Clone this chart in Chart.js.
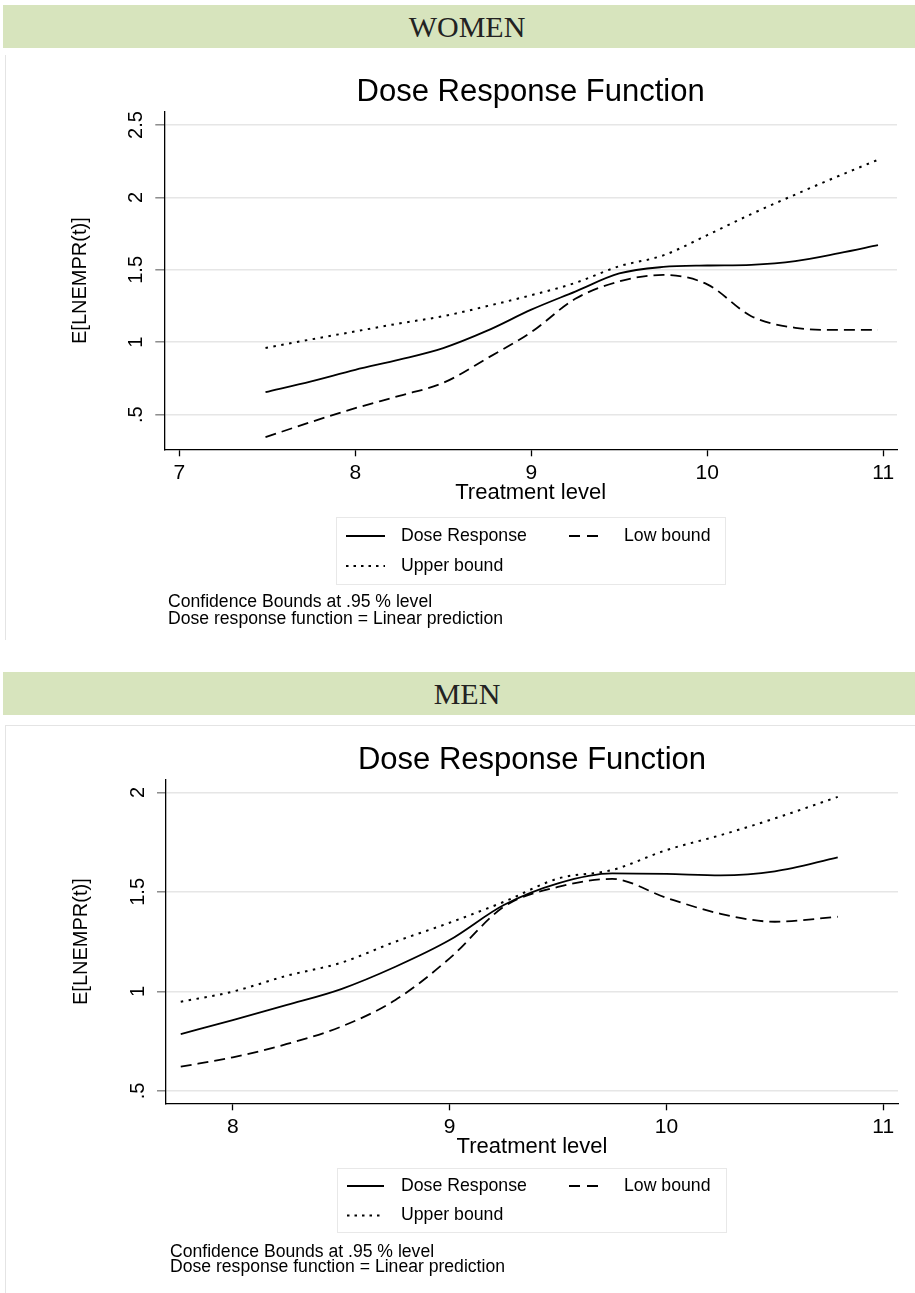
<!DOCTYPE html>
<html>
<head>
<meta charset="utf-8">
<title>Dose Response Function</title>
<script src="https://cdn.jsdelivr.net/npm/chart.js@4.4.0/dist/chart.umd.min.js"></script>
<style>
  body { margin: 0; background: #fff; width: 915px; height: 1293px; position: relative; overflow: hidden; }
  .band { position: absolute; left: 3px; width: 912px; height: 43px; background: #d7e4bd;
          font-family: "Liberation Serif", "Times New Roman", serif; font-size: 30px; color: #222;
          line-height: 43px; text-align: center; padding-left: 16px; box-sizing: border-box; }
  .panel { position: absolute; left: 5px; width: 910px; border-left: 1px solid #e4e4e4; }
  canvas { position: absolute; left: 0; }
  .notes { position: absolute; font-family: "Liberation Sans", Arial, sans-serif; font-size: 17.6px; color: #000; white-space: nowrap; }
</style>
</head>
<body>
<div class="band" style="top:5px;">WOMEN</div>
<div class="panel" style="top:55px;height:585px;"></div>
<canvas id="womenChart" width="915" height="545" style="top:52px;"></canvas>
<div class="notes" style="left:168px;top:593px;line-height:16.6px;">Confidence Bounds at .95 % level<br>Dose response function = Linear prediction</div>

<div class="band" style="top:672px;">MEN</div>
<div class="panel" style="top:725px;height:568px;border-top:1px solid #e4e4e4;"></div>
<canvas id="menChart" width="915" height="520" style="top:725px;"></canvas>
<div class="notes" style="left:170px;top:1244px;line-height:15px;">Confidence Bounds at .95 % level<br>Dose response function = Linear prediction</div>

<script>
// WOMEN
var womenLevels = [7.49, 7.75, 8, 8.25, 8.5, 8.75, 9, 9.25, 9.5, 9.75, 10, 10.25, 10.5, 10.75, 10.97];
var womenDose   = [0.655, 0.73, 0.81, 0.88, 0.96, 1.08, 1.225, 1.35, 1.475, 1.52, 1.53, 1.535, 1.56, 1.615, 1.67];
var womenLow    = [0.345, 0.45, 0.545, 0.63, 0.72, 0.89, 1.07, 1.30, 1.42, 1.465, 1.40, 1.18, 1.10, 1.085, 1.085];
var womenUpper  = [0.96, 1.02, 1.075, 1.13, 1.18, 1.25, 1.325, 1.41, 1.525, 1.60, 1.74, 1.885, 2.02, 2.15, 2.26];
var womenXTicks = [7, 8, 9, 10, 11];
var womenYTicks = [0.5, 1, 1.5, 2, 2.5];

// MEN
var menLevels = [7.76, 8, 8.25, 8.5, 8.75, 9, 9.25, 9.5, 9.75, 10, 10.25, 10.5, 10.79];
var menDose   = [0.786, 0.856, 0.932, 1.012, 1.124, 1.258, 1.434, 1.543, 1.593, 1.59, 1.583, 1.603, 1.673];
var menLow    = [0.622, 0.669, 0.736, 0.823, 0.957, 1.166, 1.425, 1.525, 1.565, 1.47, 1.39, 1.35, 1.375];
var menUpper  = [0.948, 0.999, 1.079, 1.144, 1.25, 1.345, 1.45, 1.567, 1.61, 1.71, 1.785, 1.869, 1.977];
var menXTicks = [8, 9, 10, 11];
var menYTicks = [0.5, 1, 1.5, 2];

var seriesNames = ['Dose Response', 'Low bound', 'Upper bound'];
var FONT = '"Liberation Sans", Arial, sans-serif';

// stata style legend: box with two columns
var boundsLegend = {
    id: 'boundsLegend',
    afterDraw: function(chart, args, opts) {
        var ctx = chart.ctx;
        ctx.save();
        ctx.strokeStyle = '#e8e8e8';
        ctx.lineWidth = 1;
        ctx.strokeRect(opts.box[0] + 0.5, opts.box[1] + 0.5, opts.box[2], opts.box[3]);
        opts.items.forEach(function(it) {
            var ds = chart.data.datasets[it.dataset];
            var col = opts.cols[it.col];
            var y = opts.rows[it.row];
            ctx.beginPath();
            ctx.setLineDash(ds.legendDash || []);
            ctx.strokeStyle = ds.borderColor;
            ctx.lineWidth = ds.borderWidth;
            ctx.moveTo(col[0], y);
            ctx.lineTo(col[1], y);
            ctx.stroke();
            ctx.setLineDash([]);
            ctx.fillStyle = '#000';
            ctx.font = '17.7px ' + FONT;
            ctx.textBaseline = 'middle';
            ctx.fillText(ds.label, col[2], y);
        });
        ctx.restore();
    }
};

function toPoints(xs, ys) {
    return xs.map(function(x, i) { return { x: x, y: ys[i] }; });
}

function fmtY(v) {
    return String(v).replace(/^0\./, '.');
}

function makeChart(id, levels, dose, low, upper, xTicks, yTicks, p) {
    var ctx = document.getElementById(id).getContext('2d');
    var common = { pointRadius: 0, borderColor: '#000', fill: false, cubicInterpolationMode: 'monotone' };
    return new Chart(ctx, {
        type: 'line',
        data: {
            datasets: [
                Object.assign({ label: seriesNames[0], data: toPoints(levels, dose), borderWidth: 1.8 }, common),
                Object.assign({ label: seriesNames[1], data: toPoints(levels, low), borderWidth: 1.8, borderDash: [11, 6], legendDash: [11, 7] }, common),
                Object.assign({ label: seriesNames[2], data: toPoints(levels, upper), borderWidth: 2, borderDash: [2.5, 5.5], legendDash: [2.5, 5] }, common)
            ]
        },
        options: {
            responsive: false,
            animation: false,
            layout: { padding: { left: 0, top: 0, right: 915 - p.right, bottom: p.canvasH - p.bottom - 60 } },
            plugins: {
                legend: { display: false },
                tooltip: { enabled: false },
                title: {
                    display: true,
                    text: 'Dose Response Function',
                    fullSize: false,
                    color: '#000',
                    font: { family: FONT, size: 31, weight: 'normal' },
                    padding: { top: p.titleTop, bottom: p.top - p.titleTop - 37.2 }
                },
                boundsLegend: p.legend
            },
            scales: {
                x: {
                    type: 'linear',
                    min: p.xMin, max: p.xMax,
                    afterBuildTicks: function(s) { s.ticks = xTicks.map(function(v) { return { value: v }; }); },
                    afterFit: function(s) { s.height = 60; },
                    ticks: { color: '#000', font: { family: FONT, size: 21 }, padding: 4, autoSkip: false, maxRotation: 0 },
                    grid: { drawOnChartArea: false, tickLength: 7, tickColor: '#000', tickWidth: 1.3 },
                    border: { color: '#000', width: 1.3 },
                    title: { display: true, text: 'Treatment level', color: '#000', font: { family: FONT, size: 22 }, padding: { top: 0, bottom: 3.5 } }
                },
                y: {
                    type: 'linear',
                    min: p.yMin, max: p.yMax,
                    afterBuildTicks: function(s) { s.ticks = yTicks.map(function(v) { return { value: v }; }); },
                    afterFit: function(s) { s.width = p.left; },
                    ticks: { color: '#000', font: { family: FONT, size: 20 }, padding: 5, autoSkip: false,
                             minRotation: 90, maxRotation: 90, crossAlign: 'center', callback: fmtY },
                    grid: { color: '#e6e6e6', lineWidth: 1.6, tickLength: 9, tickColor: '#7a7a7a', tickWidth: 1.3 },
                    border: { color: '#000', width: 1.3 },
                    title: { display: true, text: 'E[LNEMPR(t)]', color: '#000', font: { family: FONT, size: 20 }, padding: { top: p.yTitle - 12, bottom: 0 } }
                }
            }
        },
        plugins: [boundsLegend]
    });
}

document.addEventListener("DOMContentLoaded", function() {
    makeChart('womenChart', womenLevels, womenDose, womenLow, womenUpper, womenXTicks, womenYTicks, {
        canvasH: 545, left: 164.3, right: 897, top: 60, bottom: 397.3, titleTop: 21.4, yTitle: 80.3,
        xMin: 6.915, xMax: 11.078, yMin: 0.261, yMax: 2.59,
        legend: {
            box: [336, 465, 389, 67],
            rows: [484, 514],
            cols: [[346, 385, 401], [569, 602, 624]],
            items: [{ dataset: 0, row: 0, col: 0 }, { dataset: 1, row: 0, col: 1 }, { dataset: 2, row: 1, col: 0 }]
        }
    });
    makeChart('menChart', menLevels, menDose, menLow, menUpper, menXTicks, menYTicks, {
        canvasH: 520, left: 166, right: 898, top: 55, bottom: 378.3, titleTop: 16.4, yTitle: 81.7,
        xMin: 7.692, xMax: 11.068, yMin: 0.438, yMax: 2.062,
        legend: {
            box: [337, 443, 389, 64],
            rows: [461, 490.5],
            cols: [[347, 384, 401], [569, 602, 624]],
            items: [{ dataset: 0, row: 0, col: 0 }, { dataset: 1, row: 0, col: 1 }, { dataset: 2, row: 1, col: 0 }]
        }
    });
});
</script>
</body>
</html>
